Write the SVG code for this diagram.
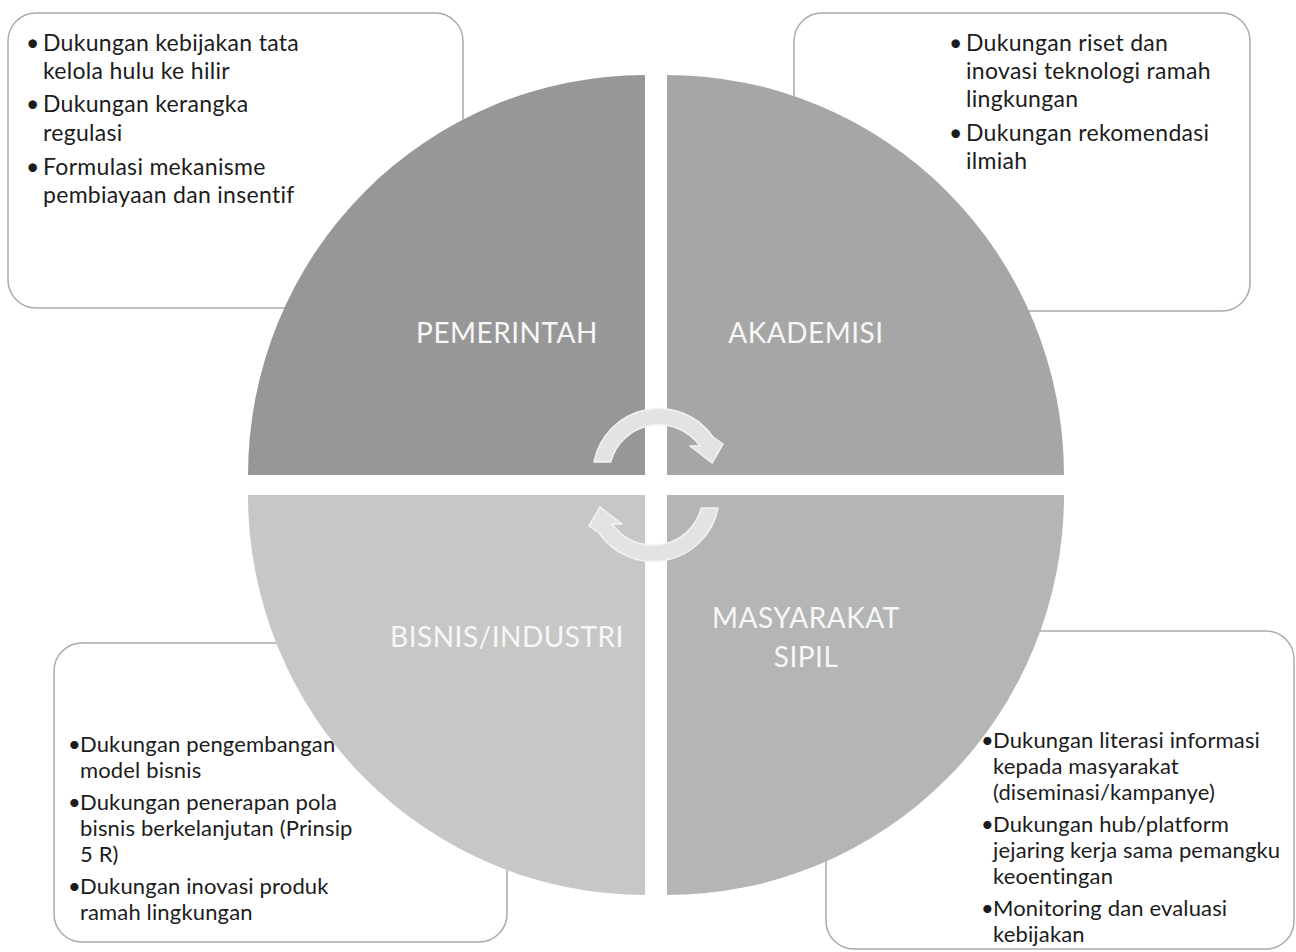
<svg xmlns="http://www.w3.org/2000/svg" width="1296" height="952" viewBox="0 0 1296 952">
<style>
.box{fill:#ffffff;stroke:#ababab;stroke-width:1.5}
.t{font-family:Lato,"Open Sans","Liberation Sans",sans-serif;fill:#1c1c1c}
.top{font-size:23px;letter-spacing:0.3px}
.bot{font-size:22px;letter-spacing:0.15px}
.lbl{font-family:Lato,"Open Sans","Liberation Sans",sans-serif;font-size:28px;letter-spacing:0.5px;fill:#f7f7f7;text-anchor:middle}
.arrow{fill:#e2e4e4;stroke:#f3f3f3;stroke-width:1.5;stroke-linejoin:round}
</style>
<rect width="1296" height="952" fill="#ffffff"/>
<g id="box-pemerintah">
<rect class="box" x="8" y="13" width="455" height="295" rx="28"/>
<text class="t top"><tspan x="26" y="51">•</tspan><tspan x="43" y="51">Dukungan kebijakan tata</tspan><tspan x="43" y="79">kelola hulu ke hilir</tspan><tspan x="26" y="112">•</tspan><tspan x="43" y="112">Dukungan kerangka</tspan><tspan x="43" y="141">regulasi</tspan><tspan x="26" y="175">•</tspan><tspan x="43" y="175">Formulasi mekanisme</tspan><tspan x="43" y="203">pembiayaan dan insentif</tspan></text>
</g>
<g id="box-akademisi">
<rect class="box" x="794" y="13" width="456" height="298" rx="28"/>
<text class="t top"><tspan x="949" y="51">•</tspan><tspan x="966" y="51">Dukungan riset dan</tspan><tspan x="966" y="79">inovasi teknologi ramah</tspan><tspan x="966" y="107">lingkungan</tspan><tspan x="949" y="141">•</tspan><tspan x="966" y="141">Dukungan rekomendasi</tspan><tspan x="966" y="169">ilmiah</tspan></text>
</g>
<g id="box-bisnis">
<rect class="box" x="54" y="643" width="453" height="299" rx="28"/>
<text class="t bot"><tspan x="68" y="752">•</tspan><tspan x="80" y="752">Dukungan pengembangan</tspan><tspan x="80" y="778">model bisnis</tspan><tspan x="68" y="810">•</tspan><tspan x="80" y="810">Dukungan penerapan pola</tspan><tspan x="80" y="836">bisnis berkelanjutan (Prinsip</tspan><tspan x="80" y="862">5 R)</tspan><tspan x="68" y="894">•</tspan><tspan x="80" y="894">Dukungan inovasi produk</tspan><tspan x="80" y="920">ramah lingkungan</tspan></text>
</g>
<g id="box-masyarakat">
<rect class="box" x="826" y="631" width="468" height="318" rx="28"/>
<text class="t bot"><tspan x="981" y="748">•</tspan><tspan x="993" y="748">Dukungan literasi informasi</tspan><tspan x="993" y="774">kepada masyarakat</tspan><tspan x="993" y="800">(diseminasi/kampanye)</tspan><tspan x="981" y="832">•</tspan><tspan x="993" y="832">Dukungan hub/platform</tspan><tspan x="993" y="858">jejaring kerja sama pemangku</tspan><tspan x="993" y="884">keoentingan</tspan><tspan x="981" y="916">•</tspan><tspan x="993" y="916">Monitoring dan evaluasi</tspan><tspan x="993" y="942">kebijakan</tspan></text>
</g>
<g id="q-pemerintah">
<path d="M645,475 L248,475 A397,400 0 0 1 645,75 Z" fill="#979797"/>
<text class="lbl" x="507" y="343">PEMERINTAH</text>
</g>
<g id="q-akademisi">
<path d="M667,475 L667,75 A397,400 0 0 1 1064,475 Z" fill="#a6a6a6"/>
<text class="lbl" x="806" y="343">AKADEMISI</text>
</g>
<g id="q-masyarakat">
<path d="M667,495 L1064,495 A397,400 0 0 1 667,895 Z" fill="#b4b5b5"/>
<text class="lbl"><tspan x="806" y="628">MASYARAKAT</tspan><tspan x="806" y="667">SIPIL</tspan></text>
</g>
<g id="q-bisnis">
<path d="M645,495 L645,895 A397,400 0 0 1 248,495 Z" fill="#c7c7c6"/>
<text class="lbl" x="507" y="647">BISNIS/INDUSTRI</text>
</g>
<g id="connectors">
<path id="arrow-top" class="arrow" d="M594,462 A66,66 0 0 1 713,437 L723,444 L712,463 L690,446 L700,446 A50,50 0 0 0 610.7,462 Z"/>
<path id="arrow-bottom" class="arrow" transform="rotate(180 656 485)" d="M594,462 A66,66 0 0 1 713,437 L723,444 L712,463 L690,446 L700,446 A50,50 0 0 0 610.7,462 Z"/>
</g>
</svg>
